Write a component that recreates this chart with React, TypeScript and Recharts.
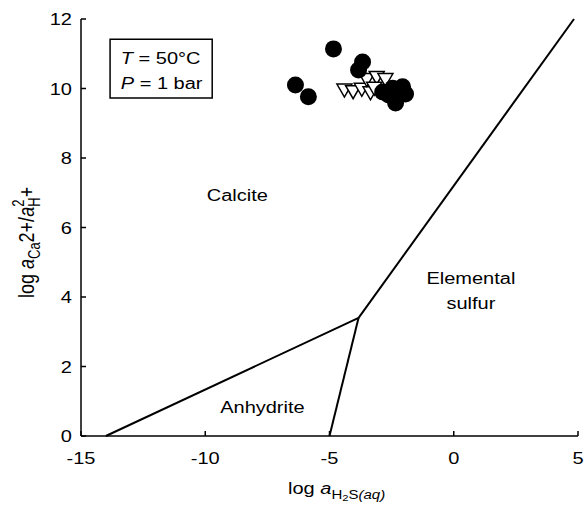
import { ScatterChart, Scatter, XAxis, YAxis, ReferenceLine, ReferenceArea, ReferenceDot } from 'recharts';

const xTicks = [-15, -10, -5, 0, 5];
const yTicks = [0, 2, 4, 6, 8, 10, 12];

// filled circles
const circleX = [-4.84, -6.37, -5.85, -3.67, -3.83, -2.86, -2.46, -2.06, -1.94, -2.34, -2.62];
const circleY = [11.14, 10.1, 9.76, 10.76, 10.53, 9.9, 10.01, 10.05, 9.84, 9.58, 9.81];

// open inverted triangles
const triX = [-4.4, -4.05, -3.7, -3.35, -3.5, -3.1, -2.75, -3.2];
const triY = [10.0, 9.95, 10.02, 9.92, 10.3, 10.36, 10.3, 10.05];

// phase boundaries
const anhydriteCalcite = [{ x: -14, y: 0 }, { x: -3.83, y: 3.4 }];
const anhydriteSulfur = [{ x: -5, y: 0 }, { x: -3.83, y: 3.4 }];
const calciteSulfur = [{ x: -3.83, y: 3.4 }, { x: 4.84, y: 12 }];

const circles = circleX.map((x, i) => ({ x, y: circleY[i] }));
const triangles = triX.map((x, i) => ({ x, y: triY[i] }));

const FONT = '"Liberation Sans", Arial, sans-serif';
const SX = 1.25;

function SText({ x, y, anchor = 'start', size = 16, children }: any) {
  return (
    <text
      transform={`translate(${x} ${y}) scale(${SX} 1)`}
      textAnchor={anchor}
      fontSize={size}
      fontFamily={FONT}
      fill="#000"
    >
      {children}
    </text>
  );
}

const XTick = (p: any) => <SText x={p.x} y={p.y + 33} anchor="middle">{p.payload.value}</SText>;
const YTick = (p: any) => <SText x={p.x - 14} y={p.y + 6} anchor="end">{p.payload.value}</SText>;

const XLabel = () => (
  <SText x={288} y={494}>
    <tspan>log </tspan>
    <tspan fontStyle="italic">a</tspan>
    <tspan fontSize={12} dy={5}>H</tspan>
    <tspan fontSize={9} dy={2}>2</tspan>
    <tspan fontSize={12} dy={-2}>S</tspan>
    <tspan fontSize={12} fontStyle="italic">(aq)</tspan>
  </SText>
);

const YLabel = () => (
  <text
    transform={`translate(34 298) rotate(-90) scale(1 ${SX})`}
    fontSize={18}
    fontFamily={FONT}
    fill="#000"
  >
    <tspan>log </tspan>
    <tspan fontStyle="italic">a</tspan>
    <tspan fontSize={13} dy={5}>Ca</tspan>
    <tspan dy={-5}>2+/</tspan>
    <tspan fontStyle="italic">a</tspan>
    <tspan fontSize={13} dy={-8}>2</tspan>
    <tspan fontSize={13} dx={-7} dy={13}>H</tspan>
    <tspan dy={-5}>+</tspan>
  </text>
);

const Circle = (p: any) => <circle cx={p.cx} cy={p.cy} r={8.5} fill="#000" />;
const Tri = (p: any) => (
  <polygon
    points={`${p.cx - 7.5},${p.cy - 4.5} ${p.cx + 7.5},${p.cy - 4.5} ${p.cx},${p.cy + 8.5}`}
    fill="#fff"
    stroke="#000"
    strokeWidth={1.5}
  />
);

const textAt = (label: any) => (p: any) => (
  <SText x={p.cx} y={p.cy} anchor="middle">{label}</SText>
);

export default function App() {
  return (
    <div style={{ position: 'absolute', left: 0, top: 0, background: '#fff' }}>
      <ScatterChart width={584} height={513} margin={{ top: 19, right: 6, left: 0, bottom: 0 }}>
        <XAxis
          type="number"
          dataKey="x"
          domain={[-15, 5]}
          ticks={xTicks}
          interval={0}
          height={77}
          tickSize={-5}
          tickMargin={0}
          stroke="#000"
          strokeWidth={1.5}
          tick={XTick}
          label={{ content: XLabel }}
        />
        <YAxis
          type="number"
          dataKey="y"
          domain={[0, 12]}
          ticks={yTicks}
          interval={0}
          width={81}
          tickSize={-5}
          tickMargin={0}
          stroke="#000"
          strokeWidth={1.5}
          tick={YTick}
          label={{ content: YLabel }}
        />
        <XAxis xAxisId="top" orientation="top" type="number" domain={[-15, 5]} height={0} tick={false} tickLine={false} stroke="#000" strokeWidth={1.5} />
        <YAxis yAxisId="right" orientation="right" type="number" domain={[0, 12]} width={0} tick={false} tickLine={false} stroke="#000" strokeWidth={1.5} />

        <ReferenceLine segment={anhydriteCalcite} stroke="#000" strokeWidth={2} ifOverflow="visible" />
        <ReferenceLine segment={anhydriteSulfur} stroke="#000" strokeWidth={2} ifOverflow="visible" />
        <ReferenceLine segment={calciteSulfur} stroke="#000" strokeWidth={2} ifOverflow="visible" />

        <ReferenceArea x1={-13.83} x2={-9.72} y1={9.73} y2={11.42} fill="#fff" fillOpacity={1} stroke="#000" strokeWidth={1.5} />
        <ReferenceDot x={-13.4} y={10.7} r={0} shape={(p: any) => (
          <SText x={p.cx} y={p.cy}>
            <tspan fontStyle="italic">T</tspan> = 50°C
          </SText>
        )} />
        <ReferenceDot x={-13.4} y={9.98} r={0} shape={(p: any) => (
          <SText x={p.cx} y={p.cy}>
            <tspan fontStyle="italic">P</tspan> = 1 bar
          </SText>
        )} />

        <ReferenceDot x={-8.71} y={6.77} r={0} shape={textAt('Calcite')} />
        <ReferenceDot x={-7.7} y={0.66} r={0} shape={textAt('Anhydrite')} />
        <ReferenceDot x={0.69} y={4.38} r={0} shape={textAt('Elemental')} />
        <ReferenceDot x={0.69} y={3.66} r={0} shape={textAt('sulfur')} />

        <Scatter data={triangles} shape={Tri} isAnimationActive={false} />
        <Scatter data={circles} shape={Circle} isAnimationActive={false} />
      </ScatterChart>
    </div>
  );
}
